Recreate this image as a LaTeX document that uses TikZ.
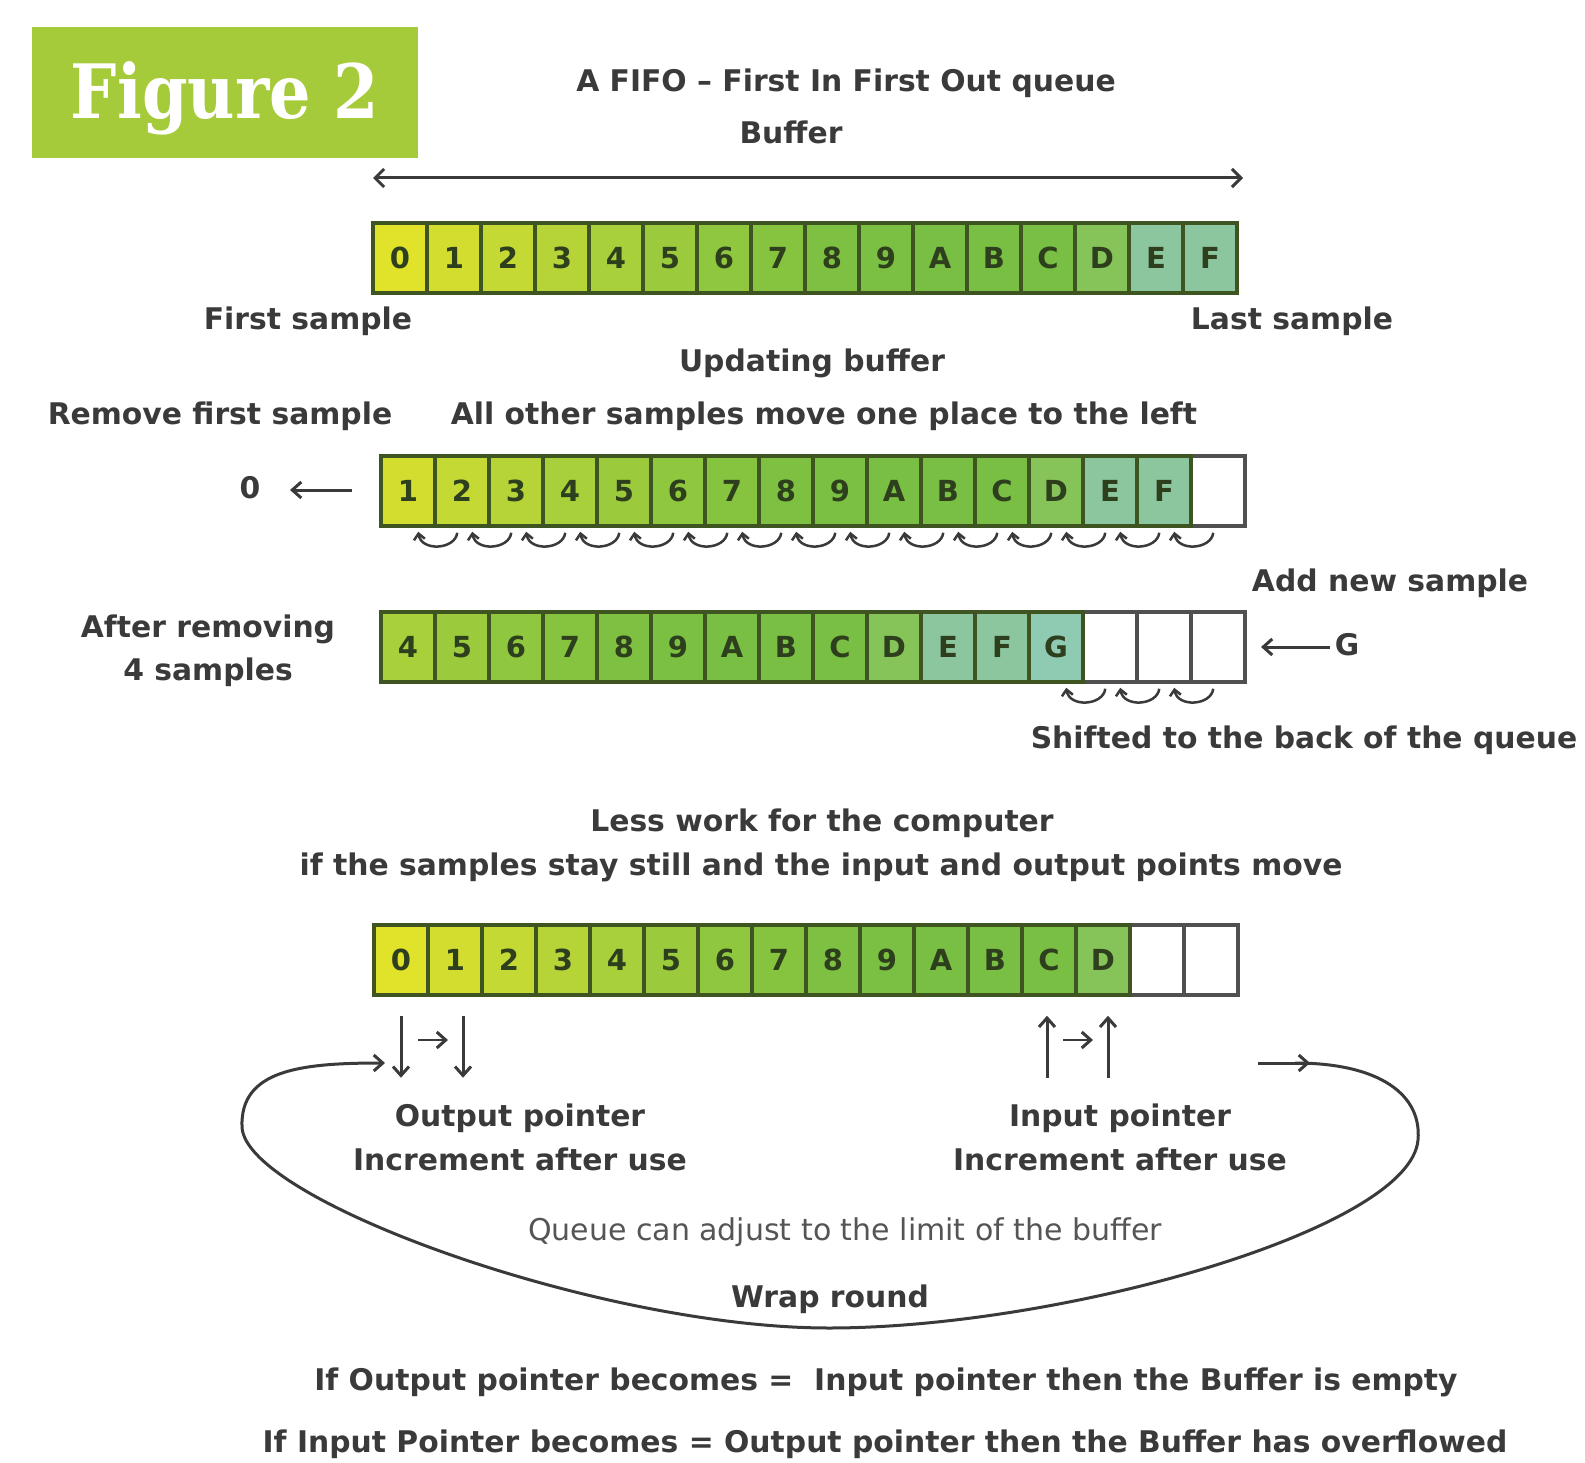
\documentclass[tikz,border=0pt]{standalone}
\usepackage{fontspec}
\setmainfont{DejaVu Sans}
\newfontfamily\slabfont{DejaVu Serif}
\usetikzlibrary{arrows.meta}
\definecolor{txt}{HTML}{3A3A3A}
\definecolor{txtlight}{HTML}{555555}
\definecolor{figgreen}{HTML}{A6CB3A}
\definecolor{cellline}{HTML}{3E5522}
\definecolor{emptyline}{HTML}{505050}
\definecolor{digit}{HTML}{2D3F1C}
\definecolor{c0}{HTML}{E1E32B}
\definecolor{c1}{HTML}{D2DD2F}
\definecolor{c2}{HTML}{C4D934}
\definecolor{c3}{HTML}{B6D437}
\definecolor{c4}{HTML}{A8D03A}
\definecolor{c5}{HTML}{9BCB3C}
\definecolor{c6}{HTML}{8FC73E}
\definecolor{c7}{HTML}{86C440}
\definecolor{c8}{HTML}{7EC142}
\definecolor{c9}{HTML}{7BC043}
\definecolor{cA}{HTML}{79BF44}
\definecolor{cB}{HTML}{79BF44}
\definecolor{cC}{HTML}{79BF44}
\definecolor{cD}{HTML}{86C45A}
\definecolor{cE}{HTML}{8BC69E}
\definecolor{cF}{HTML}{8BC69E}
\definecolor{cG}{HTML}{8FCAB2}
\begin{document}
\begin{tikzpicture}[x=1pt,y=-1pt,
  cellbox/.style={draw=cellline, line width=3.5pt, minimum width=54pt, minimum height=70pt, inner sep=0pt,
    font=\fontsize{29}{30}\selectfont\bfseries, text=digit},
  emptybox/.style={draw=emptyline, line width=3.5pt, minimum width=54pt, minimum height=70pt, inner sep=0pt, fill=white},
  lbl/.style={font=\fontsize{29.8}{34}\selectfont\bfseries, text=txt, inner sep=0pt, text height=0.75em, text depth=0.25em},
  lblthin/.style={font=\fontsize{30}{34}\selectfont, text=txtlight, inner sep=0pt, text height=0.75em, text depth=0.25em},
  arr/.style={draw=txt, line width=3pt, -{Straight Barb[length=9pt,width=16pt,line width=3pt]}},
  curly/.style={draw=txt, line width=2.5pt, -{Straight Barb[length=6pt,width=11pt,line width=2.5pt]}},
  wrapline/.style={draw=txt, line width=3pt},
]
\useasboundingbox (0,0) rectangle (1585,1463);
\fill[white] (0,0) rectangle (1585,1463);

% Figure label
\fill[figgreen] (32,27) rectangle (418,158);
\node[text=white, inner sep=0pt] (figlbl) at (225,98) {\scalebox{0.87}[1]{\slabfont\bfseries\fontsize{75}{80}\selectfont Figure 2}};

% Headings
\node[lbl] (title) at (846,89) {A FIFO – First In First Out queue};
\node[lbl] (buf) at (791,141) {Buffer};
\coordinate (bufL) at (373,178);
\coordinate (bufR) at (1243,178);
\draw[draw=txt, line width=3pt, {Straight Barb[length=9pt,width=18pt,line width=3pt]}-{Straight Barb[length=9pt,width=18pt,line width=3pt]}] (bufL) -- (bufR);

% Row 1
\foreach \l [count=\i from 0] in {0,1,2,3,4,5,6,7,8,9,A,B,C,D,E,F}
  \node[cellbox, fill=c\l] (ra\i) at ({400+54*\i},258) {\l};
\node[lbl] (first) at (308,327) {First sample};
\node[lbl] (last) at (1292,327) {Last sample};

% Row 2
\node[lbl] (upd) at (812,369) {Updating buffer};
\node[lbl] (rem) at (220,422) {Remove first sample};
\node[lbl] (allo) at (824,422) {All other samples move one place to the left};
\node[emptybox] (rb15) at ({408+54*15},491) {};
\foreach \l [count=\i from 0] in {1,2,3,4,5,6,7,8,9,A,B,C,D,E,F}
  \node[cellbox, fill=c\l] (rb\i) at ({408+54*\i},491) {\l};
\node[lbl] (zero) at (250,496) {0};
\coordinate (zarrS) at (352,490);
\draw[arr] (zarrS) -- (290,490);
\foreach \k in {1,...,15}
  \draw[curly] ([xshift=24pt,yshift=-5pt]rb\k.south west) .. controls ([xshift=22pt,yshift=-22pt]rb\k.south west) and ([xshift=-12pt,yshift=-24pt]rb\k.south west) .. ([xshift=-15pt,yshift=-4pt]rb\k.south west);

% Row 3
\node[lbl] (addn) at (1390,589) {Add new sample};
\node[lbl] (after1) at (208,635) {After removing};
\node[lbl] (after2) at (208,678) {4 samples};
\foreach \i in {13,14,15}
  \node[emptybox] (rc\i) at ({408+54*\i},647) {};
\foreach \l [count=\i from 0] in {4,5,6,7,8,9,A,B,C,D,E,F,G}
  \node[cellbox, fill=c\l] (rc\i) at ({408+54*\i},647) {\l};
\node[lbl] (gin) at (1347,653) {G};
\coordinate (garrS) at (1330,647);
\draw[arr] (garrS) -- (1261,647);
\foreach \k in {13,14,15}
  \draw[curly] ([xshift=24pt,yshift=-5pt]rc\k.south west) .. controls ([xshift=22pt,yshift=-22pt]rc\k.south west) and ([xshift=-12pt,yshift=-24pt]rc\k.south west) .. ([xshift=-15pt,yshift=-4pt]rc\k.south west);
\node[lbl] (shift) at (1304,746) {Shifted to the back of the queue};

% Row 4
\node[lbl] (less) at (822,829) {Less work for the computer};
\node[lbl] (ifs) at (821,873) {if the samples stay still and the input and output points move};
\foreach \i in {14,15}
  \node[emptybox] (rd\i) at ({401+54*\i},960) {};
\foreach \l [count=\i from 0] in {0,1,2,3,4,5,6,7,8,9,A,B,C,D}
  \node[cellbox, fill=c\l] (rd\i) at ({401+54*\i},960) {\l};

% Pointers
\draw[arr] ([yshift=-19pt]rd0.south) -- ([yshift=-81pt]rd0.south);
\draw[arr] ([xshift=8pt,yshift=-19pt]rd1.south) -- ([xshift=8pt,yshift=-81pt]rd1.south);
\draw[arr, line width=2.5pt] (418,1040) -- (448,1040);
\draw[arr] ([xshift=-2pt,yshift=-81pt]rd12.south) -- ([xshift=-2pt,yshift=-19pt]rd12.south);
\draw[arr] ([xshift=5pt,yshift=-81pt]rd13.south) -- ([xshift=5pt,yshift=-19pt]rd13.south);
\draw[arr, line width=2.5pt] (1063,1040) -- (1093,1040);

\node[lbl] (outp1) at (520,1124) {Output pointer};
\node[lbl] (outp2) at (520,1168) {Increment after use};
\node[lbl] (inp1) at (1120,1124) {Input pointer};
\node[lbl] (inp2) at (1120,1168) {Increment after use};
\node[lblthin] (queue) at (845,1238) {Queue can adjust to the limit of the buffer};
\node[lbl] (wrap) at (830,1305) {Wrap round};

% Wrap-round loop
\coordinate (wrS) at (1258,1063);
\coordinate (wrA) at (1310,1063);
\coordinate (wrR) at (1418,1140);
\coordinate (wrB) at (829,1328);
\coordinate (wrL) at (242,1127);
\coordinate (wrE) at (385,1063);
\draw[arr] (wrS) -- (wrA);
\draw[wrapline] (1295,1063) .. controls (1380,1063) and (1422,1095) .. (wrR)
  .. controls (1410,1230) and (1060,1328) .. (wrB)
  .. controls (600,1328) and (245,1200) .. (wrL);
\draw[arr] (wrL) .. controls (240,1070) and (300,1063) .. (wrE);

% Bottom statements
\node[lbl] (emptys) at (886,1388) {If Output pointer becomes = \ Input pointer then the Buffer is empty};
\node[lbl] (overs) at (885,1450) {If Input Pointer becomes = Output pointer then the Buffer has overflowed};
\end{tikzpicture}
\end{document}
